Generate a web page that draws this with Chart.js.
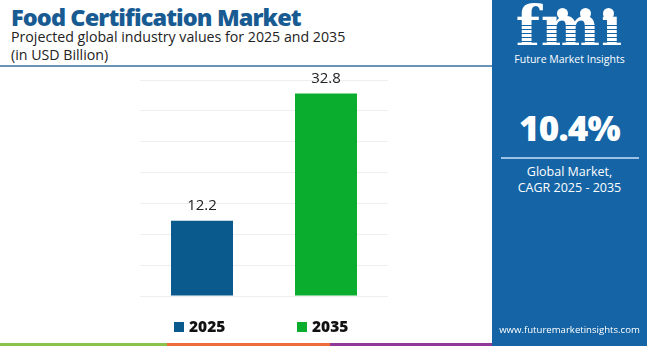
<!DOCTYPE html>
<html><head><meta charset="utf-8">
<script src="https://cdn.jsdelivr.net/npm/chart.js@4.4.1/dist/chart.umd.min.js"></script>
<style>
html,body{margin:0;padding:0;background:#fff;}
body{width:650px;height:346px;position:relative;overflow:hidden;font-family:"Open Sans",sans-serif;}
#title{position:absolute;left:11px;top:1px;font-family:"Open Sans";font-weight:800;font-size:23.5px;color:#175b92;letter-spacing:-0.9px;white-space:nowrap;}
#sub{position:absolute;left:11px;top:28px;font-size:14.2px;color:#222;line-height:18px;white-space:nowrap;}
#rule{position:absolute;left:0;top:65px;width:492px;height:2px;background:#6a93b8;}
#wrap{position:absolute;left:0;top:0;width:492px;height:346px;}
.leg{position:absolute;top:315px;font-weight:800;font-size:15.5px;color:#111;font-family:"Open Sans";}
.leg span{display:inline-block;width:10px;height:10px;margin-right:5px;vertical-align:0px;}
#panel{position:absolute;left:492px;top:0;width:155px;height:346px;background:#1565a6;color:#fff;text-align:center;}
#logo{position:absolute;left:0;width:155px;top:-2px;font-family:"DejaVu Serif",serif;font-weight:bold;font-size:56px;line-height:56px;color:#fff;letter-spacing:1px;}
#stripes{position:absolute;left:20px;top:22px;width:115px;height:32px;background:repeating-linear-gradient(to bottom, transparent 0 3px, #1565a6 3px 4px);}
.dot{position:absolute;top:8px;width:11px;height:11px;border-radius:50%;background:#fff;z-index:3;}
#fmitext{position:absolute;left:0;width:155px;top:52px;font-size:10.5px;}
#cagr{position:absolute;left:0;width:155px;top:106px;font-family:"Open Sans";font-weight:800;font-size:35px;line-height:44px;letter-spacing:-0.8px;}
#hr{position:absolute;left:9px;width:138px;top:157px;height:2px;background:#9cc3e6;}
#gm{position:absolute;left:0;width:155px;top:164px;font-size:12.5px;line-height:16px;}
#url{position:absolute;left:0;width:155px;top:323px;font-size:9.6px;}
.bl{position:absolute;top:343px;height:3px;}
</style></head>
<body>
<div id="title">Food Certification Market</div>
<div id="sub">Projected global industry values for 2025 and 2035<br>(in USD Billion)</div>
<div id="rule"></div>
<div id="wrap"><canvas id="c" width="492" height="346"></canvas></div>
<div class="leg" id="leg0" style="left:174px"><span></span>2025</div>
<div class="leg" id="leg1" style="left:297px"><span></span>2035</div>
<div id="panel">
  <div id="logo">fmı</div>
  <div id="stripes"></div>
  <div class="dot" style="left:65px"></div>
  <div class="dot" style="left:88px"></div>
  <div class="dot" style="left:111px"></div>
  <div id="fmitext">Future Market Insights</div>
  <div id="cagr">10.4%</div>
  <div id="hr"></div>
  <div id="gm">Global Market,<br>CAGR 2025 - 2035</div>
  <div id="url">www.futuremarketinsights.com</div>
</div>
<div class="bl" style="left:0;width:167px;background:#8bc34a"></div>
<div class="bl" style="left:167px;width:163px;background:#ee6b3b"></div>
<div class="bl" style="left:330px;width:162px;background:#8e3a96"></div>
<script>
const categories = ["2025", "2035"];
const values = [12.2, 32.8];
const barColors = ["#0b5a8e", "#0aad2e"];
const yTicks = [0, 5, 10, 15, 20, 25, 30, 35];

document.querySelectorAll('.leg span').forEach((s,i)=>{s.style.background=barColors[i];});

const valueLabels = {
  id: 'valueLabels',
  afterDatasetsDraw(chart){
    const ctx = chart.ctx;
    const meta = chart.getDatasetMeta(0);
    ctx.save();
    ctx.font = '15px "Open Sans"';
    ctx.fillStyle = '#222';
    ctx.textAlign = 'center';
    ctx.textBaseline = 'bottom';
    meta.data.forEach((bar,i)=>{
      ctx.fillText(values[i].toFixed(1), bar.x, bar.y - 7);
    });
    ctx.restore();
  }
};

new Chart(document.getElementById('c'), {
  type: 'bar',
  data: {
    labels: categories,
    datasets: [{
      data: values,
      backgroundColor: barColors,
      borderWidth: 0,
      barPercentage: 0.5,
      categoryPercentage: 1.0
    }]
  },
  options: {
    responsive: false,
    animation: false,
    layout: { padding: { left: 140, right: 104, top: 80, bottom: 50 } },
    plugins: { legend: { display: false }, tooltip: { enabled: false } },
    scales: {
      x: { display: false },
      y: {
        min: yTicks[0], max: yTicks[yTicks.length-1],
        afterBuildTicks(s){ s.ticks = yTicks.map(v=>({value:v})); },
        afterFit(s){ s.width = 0; },
        ticks: { display: false },
        border: { display: false },
        grid: { color: '#eeeeee', lineWidth: 1, drawTicks: false }
      }
    }
  },
  plugins: [valueLabels]
});
</script>
</body></html>
